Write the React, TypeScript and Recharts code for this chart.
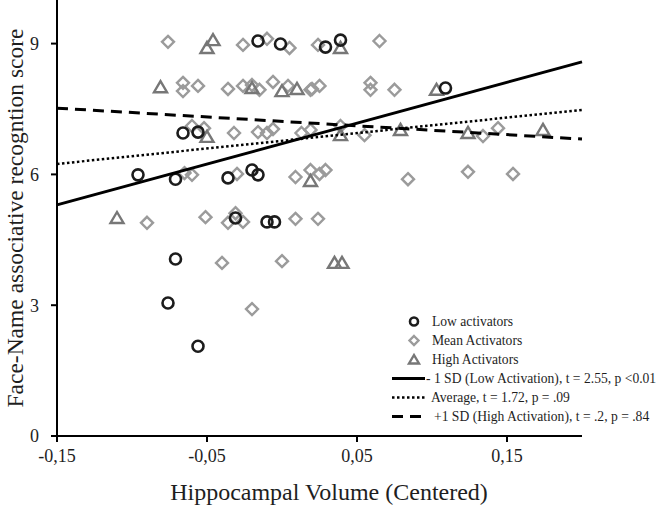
import { ScatterChart, Scatter, XAxis, YAxis, Legend } from 'recharts'

const xTicks = [-0.15, -0.05, 0.05, 0.15]
const yTicks = [0, 3, 6, 9]

// Low activators (circles)
const lowX = [-0.016, -0.001, 0.029, 0.039, 0.109, -0.066, -0.056, -0.096, -0.071, -0.036, -0.02, -0.016, -0.031, -0.01, -0.005, -0.071, -0.076, -0.056]
const lowY = [9.06, 8.99, 8.92, 9.08, 7.98, 6.95, 6.97, 5.99, 5.89, 5.92, 6.1, 5.99, 5.0, 4.91, 4.91, 4.06, 3.05, 2.06]

// Mean activators (diamonds)
const meanX = [
  -0.076, -0.026, -0.01, 0.005, 0.024, 0.065,
  -0.066, -0.066, -0.056, -0.036, -0.026, -0.02, -0.015, -0.006, 0.004, 0.019, 0.02, 0.025, 0.059, 0.059, 0.075,
  -0.06, -0.052, -0.032, -0.016, -0.01, -0.006, 0.013, 0.019, 0.039, 0.055, 0.134, 0.144,
  -0.065, -0.06, -0.03, 0.009, 0.019, 0.025, 0.029, 0.084, 0.124, 0.154,
  -0.09, -0.051, -0.036, -0.031, -0.026, 0.009, 0.024,
  -0.04, 0.0, -0.02,
]
const meanY = [
  9.04, 8.97, 9.11, 8.9, 8.97, 9.06,
  8.1, 7.91, 8.03, 7.96, 8.03, 8.05, 7.94, 8.12, 8.03, 7.94, 7.96, 8.03, 8.1, 7.94, 7.94,
  7.11, 7.06, 6.95, 6.97, 6.95, 7.04, 6.95, 7.02, 7.11, 6.9, 6.88, 7.06,
  6.03, 5.99, 6.01, 5.94, 6.1, 6.01, 6.1, 5.89, 6.06, 6.01,
  4.89, 5.02, 4.89, 5.11, 4.91, 4.98, 4.98,
  3.97, 4.01, 2.91,
]

// High activators (triangles)
const highX = [-0.05, -0.046, 0.039, -0.081, -0.02, 0.0, 0.01, 0.103, -0.05, 0.039, 0.079, 0.124, 0.174, 0.019, -0.11, 0.035, 0.04]
const highY = [8.9, 9.08, 8.9, 8.0, 7.98, 7.91, 7.96, 7.94, 6.86, 6.9, 7.02, 6.95, 7.02, 5.85, 5.0, 3.97, 3.97]

// regression lines at the two ends of the x range
const lineX = [-0.15, 0.2]
const lowSdY = [5.3, 8.58]
const averageY = [6.24, 7.48]
const highSdY = [7.52, 6.81]

const markerLabels = ['Low activators', 'Mean Activators', 'High Activators']
const lineLabels = [
  '- 1 SD (Low Activation), t = 2.55, p <0.01',
  'Average, t = 1.72, p = .09',
  '+1 SD (High Activation), t = .2, p = .84',
]

const toPoints = (xs: number[], ys: number[]) => xs.map((x, i) => ({ x, y: ys[i] }))

const FONT = '"Liberation Serif", "Times New Roman", serif'
const TEXT = '#1e1e1e'

const circleStroke = '#1c1c1c'
const diamondStroke = '#9b9b9b'
const triangleStroke = '#777777'

const CircleMark = (props: any) => (
  <circle cx={props.cx} cy={props.cy} r={5.5} fill="none" stroke={circleStroke} strokeWidth={2.6} />
)

const DiamondMark = (props: any) => {
  const { cx, cy } = props
  const s = 6
  return (
    <path
      d={`M${cx},${cy - s}L${cx + s},${cy}L${cx},${cy + s}L${cx - s},${cy}Z`}
      fill="none"
      stroke={diamondStroke}
      strokeWidth={2.4}
    />
  )
}

const TriangleMark = (props: any) => {
  const { cx, cy } = props
  return (
    <path
      d={`M${cx},${cy - 6}L${cx + 6.5},${cy + 5}L${cx - 6.5},${cy + 5}Z`}
      fill="none"
      stroke={triangleStroke}
      strokeWidth={2.4}
    />
  )
}

const NoMark = () => <g />

const fmt = (v: number) => v.toFixed(2).replace('.', ',')

function LegendBox() {
  const marks = [
    <circle key="c" cx={22} cy={9.5} r={4} fill="none" stroke={circleStroke} strokeWidth={2.6} />,
    <path key="d" d="M22,5 L26.5,9.5 L22,14 L17.5,9.5Z" fill="none" stroke={diamondStroke} strokeWidth={2.4} />,
    <path key="t" d="M22,5 L27,13.5 L17,13.5Z" fill="none" stroke={triangleStroke} strokeWidth={2.4} />,
  ]
  const lines = [
    <line key="s" x1={0} y1={9.5} x2={33} y2={9.5} stroke="#000" strokeWidth={3} />,
    <line key="a" x1={0} y1={9.5} x2={33} y2={9.5} stroke="#000" strokeWidth={2.5} strokeDasharray="2.5 2.5" />,
    <line key="h" x1={0} y1={9.5} x2={31} y2={9.5} stroke="#000" strokeWidth={3} strokeDasharray="11 7" />,
  ]
  const lineGap = [1, 6, 9]
  const row = { display: 'flex', alignItems: 'center', height: 19, whiteSpace: 'nowrap' as const }
  return (
    <div style={{ fontFamily: FONT, fontSize: 13.6, color: TEXT }}>
      {markerLabels.map((label, i) => (
        <div key={label} style={row}>
          <svg width={40} height={19}>{marks[i]}</svg>
          <span>{label}</span>
        </div>
      ))}
      {lineLabels.map((label, i) => (
        <div key={label} style={row}>
          <svg width={33} height={19}>{lines[i]}</svg>
          <span style={{ marginLeft: lineGap[i] }}>{label}</span>
        </div>
      ))}
    </div>
  )
}

export default function App() {
  return (
    <div style={{ position: 'absolute', left: 0, top: 0, width: 658, height: 507, background: '#fff' }}>
      <ScatterChart width={658} height={507} margin={{ top: 0, right: 76, bottom: 0, left: 0 }}>
        <XAxis
          type="number"
          dataKey="x"
          domain={[-0.15, 0.2]}
          ticks={xTicks}
          tickFormatter={fmt}
          height={71}
          axisLine={{ stroke: '#000', strokeWidth: 2 }}
          tickLine={{ stroke: '#000', strokeWidth: 2 }}
          tickSize={6}
          tickMargin={7}
          tick={{ fill: TEXT, fontSize: 18, fontFamily: FONT }}
          label={{
            content: () => (
              <text x={329} y={500} textAnchor="middle" fill={TEXT} fontSize={24} fontFamily={FONT}>
                Hippocampal Volume (Centered)
              </text>
            ),
          }}
        />
        <YAxis
          type="number"
          dataKey="y"
          domain={[0, 10]}
          ticks={yTicks}
          width={57}
          axisLine={{ stroke: '#000', strokeWidth: 2 }}
          tickLine={{ stroke: '#000', strokeWidth: 2 }}
          tickSize={6}
          tickMargin={12}
          tick={{ fill: TEXT, fontSize: 18, fontFamily: FONT }}
          label={{
            content: () => (
              <text x={23} y={218} transform="rotate(-90, 23, 218)" textAnchor="middle" fill={TEXT} fontSize={23.5} fontFamily={FONT}>
                Face-Name associative recogntion score
              </text>
            ),
          }}
        />
        <Legend
          layout="vertical"
          align="center"
          verticalAlign="middle"
          content={() => <LegendBox />}
          wrapperStyle={{ position: 'absolute', left: 392, top: 312, width: 266, height: 115 }}
        />
        <Scatter name="Mean Activators" data={toPoints(meanX, meanY)} shape={DiamondMark} isAnimationActive={false} />
        <Scatter name="High Activators" data={toPoints(highX, highY)} shape={TriangleMark} isAnimationActive={false} />
        <Scatter name="Low activators" data={toPoints(lowX, lowY)} shape={CircleMark} isAnimationActive={false} />
        <Scatter
          name="-1 SD"
          data={toPoints(lineX, lowSdY)}
          shape={NoMark}
          line={{ stroke: '#000', strokeWidth: 3 }}
          isAnimationActive={false}
        />
        <Scatter
          name="Average"
          data={toPoints(lineX, averageY)}
          shape={NoMark}
          line={{ stroke: '#000', strokeWidth: 2.5, strokeDasharray: '2.5 2.5' }}
          isAnimationActive={false}
        />
        <Scatter
          name="+1 SD"
          data={toPoints(lineX, highSdY)}
          shape={NoMark}
          line={{ stroke: '#000', strokeWidth: 3, strokeDasharray: '11 7' }}
          isAnimationActive={false}
        />
      </ScatterChart>
    </div>
  )
}
